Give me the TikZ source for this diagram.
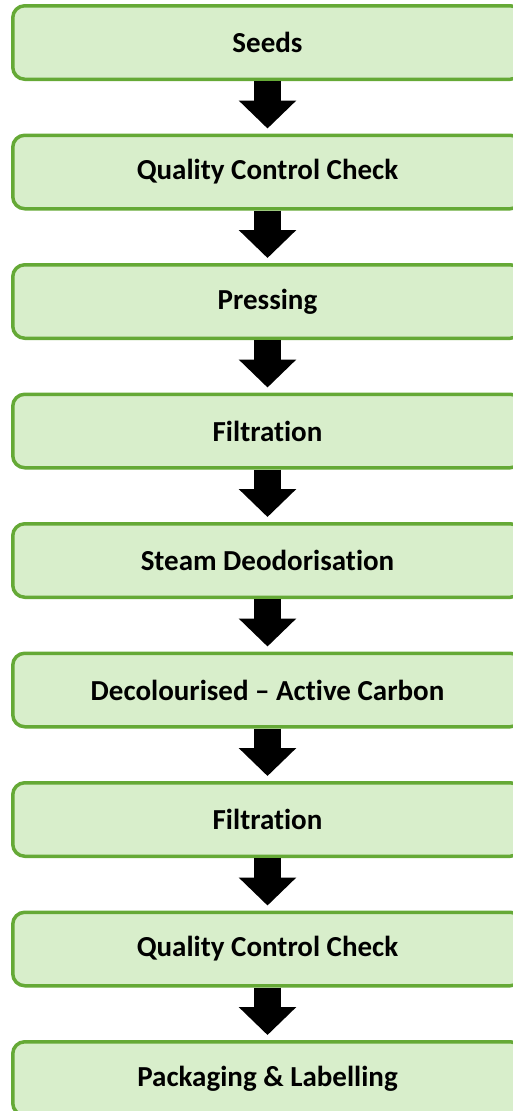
\documentclass[tikz,border=0pt]{standalone}
\usepackage{fontspec}
\setmainfont[Ligatures=NoCommon]{Carlito}
\usepackage{xcolor}
\usetikzlibrary{positioning, arrows.meta}
\definecolor{boxfill}{RGB}{216,238,203}
\definecolor{boxline}{RGB}{101,169,54}

\begin{document}
\begin{tikzpicture}[x=1pt, y=1pt,
  node distance=52.5pt,
  stage/.style={draw=boxline, fill=boxfill, line width=3.5pt,
    rounded corners=12pt, minimum width=509.5pt, minimum height=73.5pt,
    inner sep=0pt, font=\fontsize{29}{33}\selectfont\bfseries},
  flow/.style={line width=27pt, -{Triangle[width=56pt, length=28pt]},
    shorten >=5pt}]
\useasboundingbox (0,0) rectangle (513,-1111);
%
\node[stage] (seeds) at (267.5,-42.5) {Seeds};
\node[stage, below=of seeds] (qc1) {Quality Control Check};
\node[stage, below=of qc1] (press) {Pressing};
\node[stage, below=of press] (filt1) {Filtration};
\node[stage, below=of filt1] (steam) {Steam Deodorisation};
\node[stage, below=of steam] (decol) {Decolourised – Active Carbon};
\node[stage, below=of decol] (filt2) {Filtration};
\node[stage, below=of filt2] (qc2) {Quality Control Check};
\node[stage, below=of qc2] (pack) {Packaging \& Labelling};

\draw[flow] (seeds.south) -- (qc1.north);
\draw[flow] (qc1.south) -- (press.north);
\draw[flow] (press.south) -- (filt1.north);
\draw[flow] (filt1.south) -- (steam.north);
\draw[flow] (steam.south) -- (decol.north);
\draw[flow] (decol.south) -- (filt2.north);
\draw[flow] (filt2.south) -- (qc2.north);
\draw[flow] (qc2.south) -- (pack.north);
%
\end{tikzpicture}
\end{document}
